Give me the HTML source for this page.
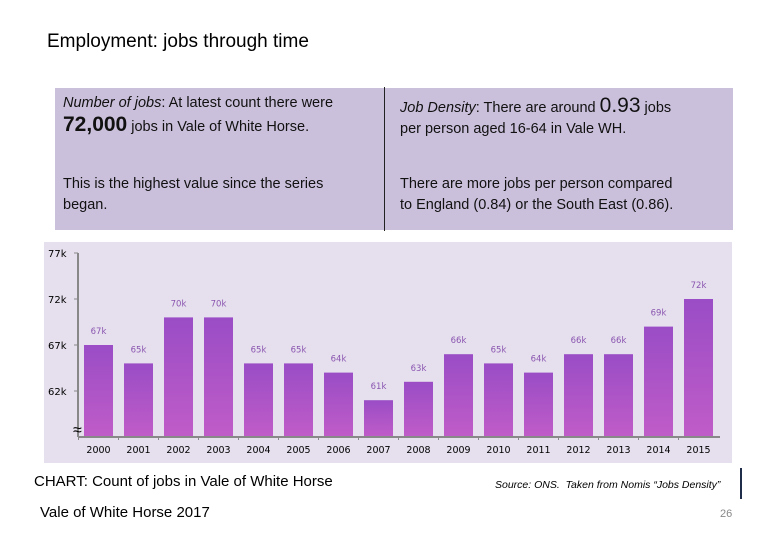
<!DOCTYPE html>
<html><head><meta charset="utf-8"><style>
body{margin:0;width:780px;height:540px;background:#fff;position:relative;overflow:hidden;font-family:"Liberation Sans",sans-serif;}
.abs{position:absolute;}
.box{font-size:14.5px;color:#111;line-height:21px;}
</style></head><body>
<div class="abs" style="left:47px;top:31px;font-size:19px;color:#000;">Employment: jobs through time</div>
<div class="abs" style="left:55px;top:88px;width:678px;height:142px;background:#cbc0dc;"></div>
<div class="abs" style="left:384px;top:87px;width:1px;height:144px;background:#222;"></div>
<div class="abs box" style="left:63px;top:93px;width:320px;"><i>Number of jobs</i>: At latest count there were<br><b style="font-size:21px">72,000</b> jobs in Vale of White Horse.</div>
<div class="abs box" style="left:63px;top:174px;width:300px;">This is the highest value since the series began.</div>
<div class="abs box" style="left:400px;top:95px;width:330px;"><i>Job Density</i>: There are around <b style="font-size:21px;font-weight:normal">0.93</b> jobs<br>per person aged 16-64 in Vale WH.</div>
<div class="abs box" style="left:400px;top:174px;width:330px;">There are more jobs per person compared<br>to England (0.84) or the South East (0.86).</div>
<svg class="abs" style="left:0;top:0" width="780" height="540">
<defs><linearGradient id="g" x1="0" y1="0" x2="0" y2="1"><stop offset="0" stop-color="#9a4dc6"/><stop offset="1" stop-color="#c05cc8"/></linearGradient></defs>
<rect x="44" y="242" width="688" height="221" fill="#e6e0ee"/>
<g id="plot"></g>
</svg>
<div class="abs" style="left:34px;top:473px;font-size:15px;color:#000;">CHART: Count of jobs in Vale of White Horse</div>
<div class="abs" style="left:495px;top:479px;font-size:10.5px;font-style:italic;color:#000;">Source: ONS.&nbsp; Taken from Nomis “Jobs Density”</div>
<div class="abs" style="left:740px;top:468px;width:2px;height:31px;background:#1f2d4a;"></div>
<div class="abs" style="left:40px;top:504px;font-size:15px;color:#000;">Vale of White Horse 2017</div>
<div class="abs" style="left:720px;top:508px;font-size:11px;color:#888;">26</div>
<script>
const years=["2000","2001","2002","2003","2004","2005","2006","2007","2008","2009","2010","2011","2012","2013","2014","2015"];
const jobs=[67,65,70,70,65,65,64,61,63,66,65,64,66,66,69,72];
const labels=["67k","65k","70k","70k","65k","65k","64k","61k","63k","66k","65k","64k","66k","66k","69k","72k"];
const ticks=[62,67,72,77];
const tickLabels=["62k","67k","72k","77k"];
const NS="http://www.w3.org/2000/svg";
const g=document.getElementById('plot');
const y0=437,yMin=57,pxPer=9.2;
const y=v=>y0-(v-yMin)*pxPer;
const x=i=>84+i*40;
function mk(t,a){const e=document.createElementNS(NS,t);for(const k in a)e.setAttribute(k,a[k]);g.appendChild(e);return e;}
jobs.forEach((v,i)=>{
 const r=mk('rect',{x:x(i),y:y(v),width:29,height:y0-y(v),fill:'url(#g)'});
 
 
 const t=mk('text',{x:x(i)+14.5,y:y(v)-11,'text-anchor':'middle','font-size':'8.5','fill':'#8a55b0','font-family':'DejaVu Sans, sans-serif'});
 t.textContent=labels[i];
 
 
 const yl=mk('text',{x:x(i)+14.5,y:y0+16,'text-anchor':'middle','font-size':'9.5','fill':'#000','font-family':'DejaVu Sans, sans-serif'});
 yl.textContent=years[i];
 
 
 const tk=mk('line',{x1:x(i)-5.5,x2:x(i)-5.5,y1:y0,y2:y0+3,stroke:'#888'});
 
 
});
ticks.forEach((v,i)=>{
 const t=mk('text',{x:48,y:y(v)+4,'font-size':'10','fill':'#000','font-family':'DejaVu Sans, sans-serif'});
 t.textContent=tickLabels[i];
 
 
 const l=mk('line',{x1:74,x2:78,y1:y(v),y2:y(v),stroke:'#888'});
 
 
});
const ya=mk('line',{x1:78,x2:78,y1:y(77),y2:y0,stroke:'#888','stroke-width':2});


const xa=mk('line',{x1:78,x2:720,y1:y0,y2:y0,stroke:'#888','stroke-width':2});


const br=mk('text',{x:73,y:y0-2,'font-size':'16','fill':'#000'});
br.textContent='≈';


</script>
</body></html>
